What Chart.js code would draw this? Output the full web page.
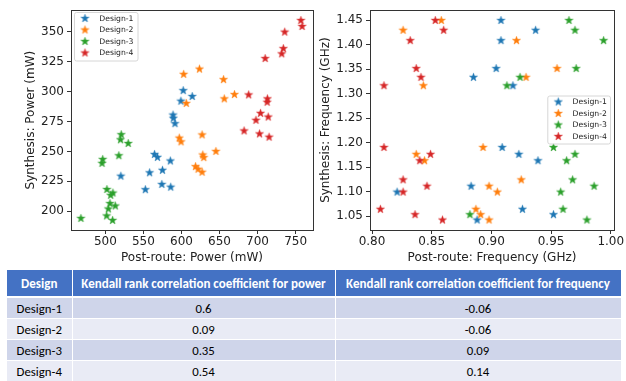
<!DOCTYPE html>
<html>
<head>
<meta charset="utf-8">
<script src="https://cdn.jsdelivr.net/npm/chart.js@4.4.0/dist/chart.umd.min.js"></script>
<style>
  html, body { margin: 0; padding: 0; background: #fff; }
  body { width: 626px; height: 381px; position: relative; overflow: hidden; }
  #powerChart { position: absolute; left: 0; top: 0; }
  #freqChart { position: absolute; left: 318px; top: 0; }
  table { position: absolute; left: 7px; top: 270px; width: 614px; border-collapse: collapse;
          table-layout: fixed; font-family: Carlito, Lato, sans-serif; }
  th { background: #4472C4; color: #fff; font-weight: bold; font-size: 13px; height: 26px;
       padding: 0; border-bottom: 2px solid #fff; border-right: 1px solid #fff; }
  td { font-size: 12.8px; height: 20px; padding: 0; text-align: center; color: #000;
       border-top: 1px solid #fff; border-right: 1px solid #fff; }
  tr.odd td { background: #CFD5EA; }
  tr.even td { background: #E9EBF5; }
</style>
</head>
<body>
<canvas id="powerChart" width="318" height="268"></canvas>
<canvas id="freqChart" width="308" height="268"></canvas>
<table id="kendall">
  <colgroup><col style="width:65px"><col style="width:263px"><col style="width:286px"></colgroup>
</table>
<script>
// designs and colours
const designs = ['Design-1', 'Design-2', 'Design-3', 'Design-4'];
const colors = ['#1f77b4', '#ff7f0e', '#2ca02c', '#d62728'];

// power: post-route (x) vs synthesis (y), mW
const d1PowerPost = [520.3, 552.5, 558.1, 564.6, 568.5, 574.2, 575.0, 585.4, 585.9, 588.9, 589.3, 591.5, 599.3, 602.3, 614.1];
const d1PowerSyn  = [229.3, 218.0, 232.1, 247.5, 245.0, 222.4, 234.2, 242.0, 220.1, 280.4, 277.7, 273.2, 292.0, 300.8, 295.9];
const d2PowerPost = [602.9, 623.7, 655.3, 656.3, 669.7, 606.3, 597.1, 599.4, 627.1, 628.0, 629.3, 645.3, 618.5, 621.9, 627.1];
const d2PowerSyn  = [314.4, 318.8, 310.0, 293.9, 297.5, 290.1, 261.1, 258.0, 263.8, 247.0, 244.8, 250.0, 237.3, 235.1, 232.6];
const d3PowerPost = [467.8, 495.6, 496.5, 519.9, 520.8, 530.0, 517.7, 502.0, 509.9, 506.9, 506.0, 513.0, 503.9, 501.7, 509.5];
const d3PowerSyn  = [194.0, 240.0, 243.3, 259.7, 264.0, 256.6, 246.4, 218.2, 215.2, 213.3, 206.4, 204.4, 201.9, 196.1, 192.3];
const d4PowerPost = [757.0, 758.6, 735.7, 733.9, 731.8, 710.0, 688.3, 713.0, 712.6, 703.9, 714.0, 697.9, 682.3, 702.6, 715.2];
const d4PowerSyn  = [359.4, 354.4, 349.7, 335.9, 331.5, 327.6, 297.2, 293.9, 291.1, 281.8, 278.7, 276.0, 267.1, 264.6, 261.9];

// frequency: post-route (x) vs synthesis (y), GHz
const d1FreqPost = [0.821, 0.908, 0.937, 0.908, 0.904, 0.885, 0.918, 0.909, 0.923, 0.939, 0.883, 0.926, 0.952, 0.888];
const d1FreqSyn  = [1.099, 1.449, 1.429, 1.408, 1.351, 1.333, 1.316, 1.190, 1.176, 1.163, 1.111, 1.064, 1.053, 1.042];
const d2FreqPost = [0.858, 0.826, 0.843, 0.837, 0.844, 0.921, 0.955, 0.929, 0.893, 0.925, 0.898, 0.905, 0.887, 0.891, 0.898];
const d2FreqSyn  = [1.449, 1.429, 1.316, 1.176, 1.163, 1.408, 1.351, 1.333, 1.190, 1.124, 1.111, 1.099, 1.064, 1.053, 1.042];
const d3FreqPost = [0.965, 0.970, 0.994, 0.971, 0.924, 0.913, 0.952, 0.970, 0.963, 0.968, 0.986, 0.958, 0.960, 0.882, 0.980];
const d3FreqSyn  = [1.449, 1.429, 1.408, 1.351, 1.333, 1.316, 1.190, 1.176, 1.163, 1.124, 1.111, 1.099, 1.064, 1.053, 1.042];
const d4FreqPost = [0.853, 0.860, 0.832, 0.837, 0.841, 0.810, 0.810, 0.849, 0.840, 0.826, 0.826, 0.846, 0.807, 0.836, 0.859];
const d4FreqSyn  = [1.449, 1.429, 1.408, 1.351, 1.333, 1.316, 1.190, 1.176, 1.163, 1.124, 1.099, 1.111, 1.064, 1.053, 1.042];

// tick labels
const powerXTicks = [500, 550, 600, 650, 700, 750];
const powerYTicks = [200, 225, 250, 275, 300, 325, 350];
const freqXTicks = [0.80, 0.85, 0.90, 0.95, 1.00];
const freqYTicks = [1.05, 1.10, 1.15, 1.20, 1.25, 1.30, 1.35, 1.40, 1.45];

// table values
const kendallPower = [0.6, 0.09, 0.35, 0.54];
const kendallFreq = [-0.06, -0.06, 0.09, 0.14];

// filled star like matplotlib '*'
function starImage(color) {
    const c = document.createElement('canvas');
    c.width = 11; c.height = 11;
    const g = c.getContext('2d');
    g.beginPath();
    for (let k = 0; k < 10; k++) {
        const r = k % 2 ? 1.7 : 4.3;
        const a = -Math.PI / 2 + k * Math.PI / 5;
        g.lineTo(5.5 + r * Math.cos(a), 5.5 + r * Math.sin(a));
    }
    g.closePath();
    g.fillStyle = color;
    g.fill();
    g.globalAlpha = 0.45;
    g.strokeStyle = color;
    g.lineWidth = 1;
    g.stroke();
    return c;
}
const stars = colors.map(starImage);

const framePlugin = {
    id: 'frame',
    afterDatasetsDraw(chart) {
        const a = chart.chartArea, ctx = chart.ctx;
        ctx.save();
        ctx.strokeStyle = '#333';
        ctx.lineWidth = 1;
        ctx.strokeRect(Math.round(a.left) + 0.5, Math.round(a.top) + 0.5,
                       Math.round(a.right - a.left), Math.round(a.bottom - a.top));
        ctx.restore();
    }
};

const boxLegend = {
    id: 'boxLegend',
    afterDraw(chart, args, o) {
        const ctx = chart.ctx;
        ctx.save();
        ctx.beginPath();
        ctx.roundRect(o.x + 0.5, o.y + 0.5, o.w, o.h, 2);
        ctx.fillStyle = 'rgba(255,255,255,0.8)';
        ctx.fill();
        ctx.strokeStyle = '#d6d6d6';
        ctx.lineWidth = 1;
        ctx.stroke();
        ctx.font = '7.7px "DejaVu Sans"';
        ctx.textBaseline = 'middle';
        ctx.fillStyle = '#222';
        designs.forEach((name, i) => {
            const cy = o.y + 6.5 + i * 11.5;
            ctx.drawImage(stars[i], o.x + 11 - 5.5, cy - 5.5);
            ctx.fillText(name, o.x + 25.3, cy + 0.5);
        });
        ctx.restore();
    }
};

function toPoints(xs, ys) {
    return xs.map((x, i) => ({ x: x, y: ys[i] }));
}

function makeChart(id, xs, ys, opt) {
    const font = { family: 'DejaVu Sans', size: 12 };
    const datasets = designs.map((name, i) => ({
        label: name,
        data: toPoints(xs[i], ys[i]),
        pointStyle: stars[i],
        pointRadius: 4,
        backgroundColor: colors[i],
        borderColor: colors[i],
        order: 3 - i
    }));
    return new Chart(document.getElementById(id), {
        type: 'scatter',
        data: { datasets },
        plugins: [framePlugin, boxLegend],
        options: {
            responsive: false,
            animation: false,
            layout: { padding: { top: 8, right: opt.rightPad, left: 0, bottom: 0 } },
            plugins: {
                legend: { display: false },
                tooltip: { enabled: false },
                boxLegend: opt.legend
            },
            scales: {
                x: {
                    min: opt.xMin, max: opt.xMax,
                    afterBuildTicks: s => { s.ticks = opt.xTicks.map(v => ({ value: v })); },
                    afterFit: s => { s.height = 38; },
                    border: { display: false },
                    grid: { drawOnChartArea: false, drawTicks: true, tickLength: 4, color: '#333' },
                    ticks: { font, color: '#222', padding: 1, autoSkip: false, maxRotation: 0,
                             callback: opt.fmt },
                    title: { display: true, text: opt.xTitle, font, color: '#222',
                             padding: { top: 0, bottom: 2.5 } }
                },
                y: {
                    min: opt.yMin, max: opt.yMax,
                    afterBuildTicks: s => { s.ticks = opt.yTicks.map(v => ({ value: v })); },
                    afterFit: s => { s.width = opt.yAxisW; },
                    border: { display: false },
                    grid: { drawOnChartArea: false, drawTicks: true, tickLength: 4, color: '#333' },
                    ticks: { font, color: '#222', padding: 3, autoSkip: false, callback: opt.fmt },
                    title: { display: true, text: opt.yTitle, font, color: '#222',
                             padding: { top: opt.yTitlePad, bottom: 0 } }
                }
            }
        }
    });
}

makeChart('powerChart',
    [d1PowerPost, d2PowerPost, d3PowerPost, d4PowerPost],
    [d1PowerSyn, d2PowerSyn, d3PowerSyn, d4PowerSyn], {
    xMin: 454.8, xMax: 772.9, yMin: 184.3, yMax: 368,
    xTicks: powerXTicks, yTicks: powerYTicks,
    fmt: v => String(v),
    xTitle: 'Post-route: Power (mW)', yTitle: 'Synthesis: Power (mW)',
    yAxisW: 71, rightPad: 3, yTitlePad: 24,
    legend: { x: 74, y: 12, w: 63.5, h: 48.5 }
});

makeChart('freqChart',
    [d1FreqPost, d2FreqPost, d3FreqPost, d4FreqPost],
    [d1FreqSyn, d2FreqSyn, d3FreqSyn, d4FreqSyn], {
    xMin: 0.7983, xMax: 1.0027, yMin: 1.0217, yMax: 1.470,
    xTicks: freqXTicks, yTicks: freqYTicks,
    fmt: v => v.toFixed(2),
    xTitle: 'Post-route: Frequency (GHz)', yTitle: 'Synthesis: Frequency (GHz)',
    yAxisW: 52, rightPad: 12, yTitlePad: 1,
    legend: { x: 229.3, y: 95.5, w: 62.7, h: 48 }
});

// table
const table = document.getElementById('kendall');
const head = table.insertRow();
['Design', 'Kendall rank correlation coefficient for power',
 'Kendall rank correlation coefficient for frequency'].forEach(t => {
    const th = document.createElement('th');
    th.textContent = t;
    head.appendChild(th);
});
designs.forEach((name, i) => {
    const row = table.insertRow();
    row.className = i % 2 ? 'even' : 'odd';
    [name, kendallPower[i], kendallFreq[i]].forEach(v => {
        row.insertCell().textContent = v;
    });
});
</script>
</body>
</html>
